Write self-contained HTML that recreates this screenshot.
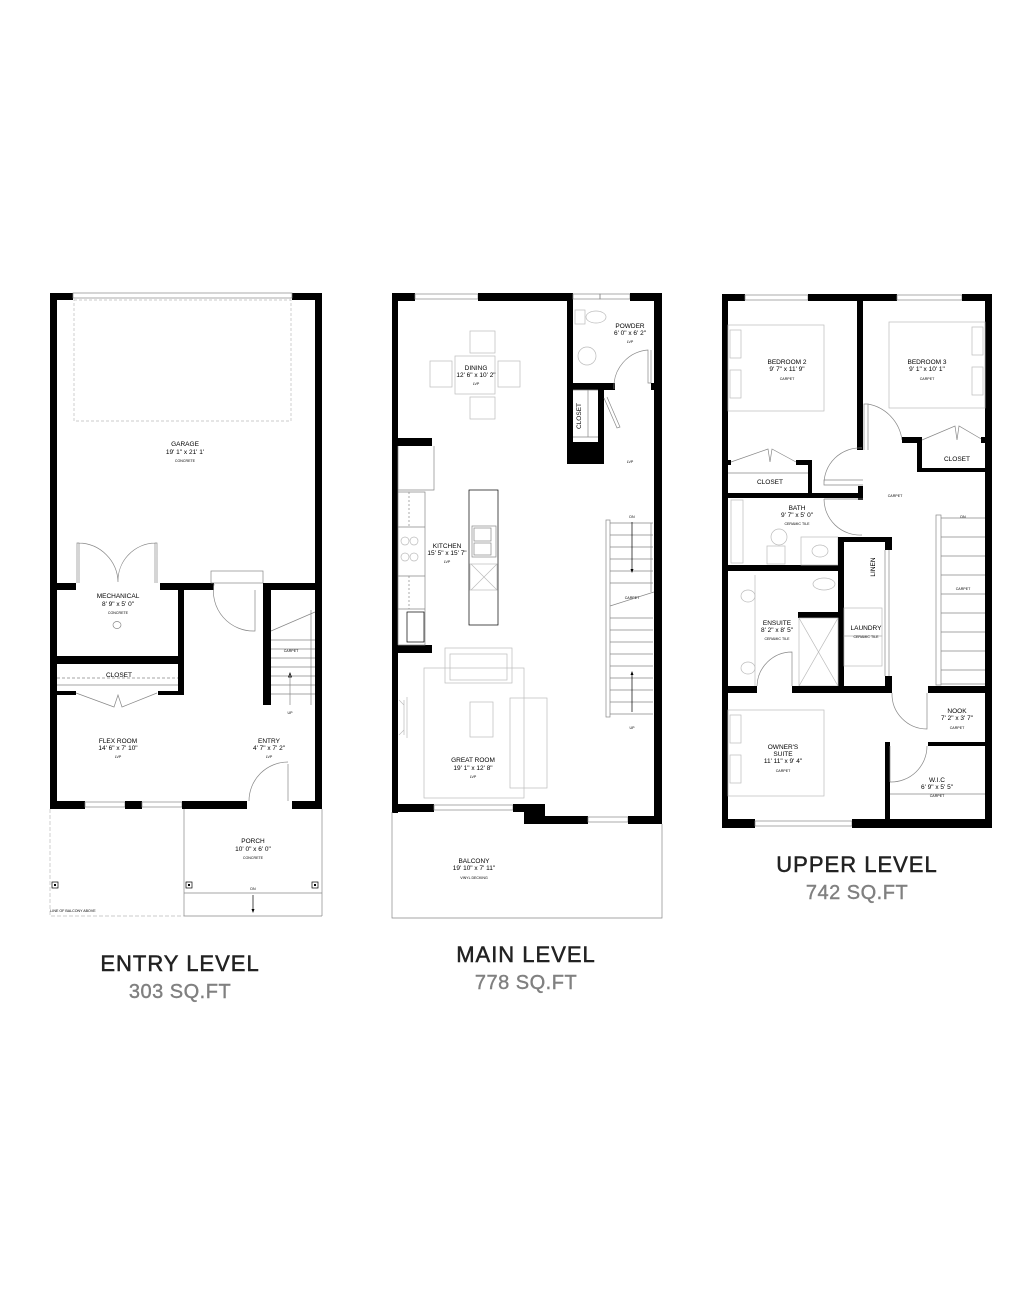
<!DOCTYPE html>
<html><head><meta charset="utf-8"><style>
html,body{margin:0;padding:0;background:#fff}
svg{display:block}
.w{fill:#000}
.t{fill:none;stroke:#888;stroke-width:0.7}
.k{fill:none;stroke:#000;stroke-width:0.7}
.f{fill:none;stroke:#bbb;stroke-width:0.7}
text{font-family:"Liberation Sans",sans-serif;text-anchor:middle;fill:#000}
.r{font-size:6.5px}
.s{font-size:3.6px}
.h{font-size:22px;letter-spacing:1px;fill:#222;stroke:#222;stroke-width:0.5}
.q{font-size:20px;letter-spacing:0.5px;fill:#808080;stroke:#808080;stroke-width:0.4}
</style></head><body>
<svg width="1036" height="1290" viewBox="0 0 1036 1290" xmlns="http://www.w3.org/2000/svg">
<!-- ENTRY LEVEL -->
<g>
<rect class="w" x="50" y="293" width="7" height="516"/>
<rect class="w" x="315" y="293" width="7" height="516"/>
<rect class="w" x="50" y="293" width="23" height="7"/>
<rect class="w" x="292" y="293" width="30" height="7"/>
<rect class="t" x="73" y="293" width="219" height="5"/>
<rect class="f" x="74" y="300" width="217" height="121" stroke-dasharray="3,2"/>
<rect class="w" x="50" y="801" width="35" height="8"/>
<rect class="t" x="85" y="802" width="40" height="5"/>
<rect class="w" x="125" y="801" width="17" height="8"/>
<rect class="t" x="142" y="802" width="40" height="5"/>
<rect class="w" x="182" y="801" width="65" height="8"/>
<rect class="w" x="292" y="801" width="30" height="8"/>
<path class="t" d="M288 801 L288 764 M249 801 A39 39 0 0 1 288 762"/>
<rect class="w" x="57" y="583" width="19" height="7"/>
<rect class="w" x="160" y="583" width="54" height="7"/>
<rect class="w" x="263" y="583" width="52" height="7"/>
<rect class="w" x="178" y="583" width="6" height="112"/>
<path class="t" d="M77 583 L77 543 L79 543 L79 583 M79 543 A40 40 0 0 1 118 582 M157 583 L157 543 L155 543 L155 583 M155 543 A38 38 0 0 0 118 582"/>
<ellipse class="t" cx="117" cy="625" rx="4" ry="3.5"/>
<rect class="w" x="57" y="656" width="121" height="8"/>
<rect class="w" x="57" y="691" width="19" height="4"/>
<rect class="w" x="158" y="691" width="26" height="4"/>
<path class="t" d="M57 678 L178 678" stroke-dasharray="3,2"/>
<path class="t" d="M57 685 L178 685 M76 693 L114 707 L118 695 L122 707 L157 693"/>
<rect class="t" x="211" y="571" width="52" height="12"/>
<path class="t" d="M214 584 A40 40 0 0 0 255 631 L255 590"/>
<rect class="w" x="263" y="583" width="8" height="122"/>
<path class="t" d="M271 631 L315 612 M271 640 H315 M271 649 H315 M271 658 H315 M271 667 H315 M271 676 H315 M271 685 H315 M271 694 H315 M311 610 V705 M290 673 V705"/>
<path class="k" d="M290 673 l-1.5 4 h3z"/>
<path class="t" d="M184 809 V916 M322 809 V916 M184 893 H322 M184 916 H322"/>
<path class="f" d="M50 809 V916 H184" stroke-dasharray="4,2"/>
<rect class="k" x="52" y="882" width="6" height="6"/><rect class="w" x="54" y="884" width="2" height="2"/>
<rect class="k" x="186" y="882" width="6" height="6"/><rect class="w" x="188" y="884" width="2" height="2"/>
<rect class="k" x="312" y="882" width="6" height="6"/><rect class="w" x="314" y="884" width="2" height="2"/>
<path class="k" d="M253 895 V910"/><path class="w" d="M251.5 909 h3 l-1.5 4z"/>
<text class="r" x="185" y="446">GARAGE</text>
<text class="r" x="185" y="454">19' 1" x 21' 1'</text>
<text class="s" x="185" y="462">CONCRETE</text>
<text class="r" x="118" y="598">MECHANICAL</text>
<text class="r" x="118" y="606">8' 9" x 5' 0"</text>
<text class="s" x="118" y="614">CONCRETE</text>
<text class="r" x="119" y="677">CLOSET</text>
<text class="r" x="118" y="743">FLEX ROOM</text>
<text class="r" x="118" y="750">14' 6" x 7' 10"</text>
<text class="s" x="118" y="758">LVP</text>
<text class="r" x="269" y="743">ENTRY</text>
<text class="r" x="269" y="750">4' 7" x 7' 2"</text>
<text class="s" x="269" y="758">LVP</text>
<text class="s" x="291" y="652">CARPET</text>
<text class="s" x="290" y="714">UP</text>
<text class="r" x="253" y="843">PORCH</text>
<text class="r" x="253" y="851">10' 0" x 6' 0"</text>
<text class="s" x="253" y="859">CONCRETE</text>
<text class="s" x="253" y="890">DN</text>
<text class="s" x="73" y="912">LINE OF BALCONY ABOVE</text>
</g>
<!-- MAIN LEVEL -->
<g>
<rect class="w" x="392" y="293" width="6" height="520"/>
<rect class="w" x="654" y="293" width="8" height="531"/>
<rect class="w" x="392" y="293" width="23" height="8"/>
<rect class="t" x="415" y="294" width="63" height="5"/>
<rect class="w" x="478" y="293" width="95" height="8"/>
<rect class="t" x="573" y="294" width="27" height="5"/>
<rect class="t" x="600" y="294" width="30" height="5"/>
<rect class="w" x="630" y="293" width="32" height="8"/>
<rect class="w" x="567" y="301" width="6" height="163"/>
<rect class="w" x="573" y="383" width="42" height="7"/>
<path class="t" d="M614 389 A37 37 0 0 1 648 350 L648 383 L651 383 L651 350"/>
<rect class="w" x="651" y="383" width="3" height="7"/>
<rect class="f" x="575" y="310" width="10" height="14"/>
<ellipse class="f" cx="596" cy="317" rx="10" ry="6"/>
<ellipse class="f" cx="587" cy="356" rx="9" ry="9"/>
<rect class="w" x="567" y="442" width="37" height="22"/>
<rect class="w" x="598" y="390" width="6" height="52"/>
<path class="t" d="M573 390 H598 M573 437 H598 M588 390 V437 M604 398 L617 428 L620 427 L607 397"/>
<rect class="w" x="398" y="438" width="34" height="8"/>
<rect class="w" x="398" y="645" width="34" height="8"/>
<path class="t" d="M398 446 V490 H434 V446 M398 490 V645 M398 492 H425 V645 H398 M398 527 H425 M398 576 H425 M398 609 H425"/>
<path class="t" d="M409 492 V527 M409 576 V609" stroke-dasharray="2,2"/>
<circle class="f" cx="405" cy="541" r="4"/><circle class="f" cx="414" cy="541" r="4"/>
<circle class="f" cx="405" cy="557" r="4"/><circle class="f" cx="414" cy="557" r="4"/>
<rect class="k" x="407" y="612" width="17" height="30"/>
<rect class="k" x="469" y="490" width="29" height="135"/>
<rect class="t" x="472" y="526" width="24" height="31"/>
<rect class="t" x="474" y="528" width="17" height="13"/><rect class="t" x="474" y="543" width="17" height="12"/>
<path class="f" d="M471 564 L497 590 M497 564 L471 590"/>
<rect class="f" x="470" y="564" width="27" height="26"/>
<rect class="f" x="455" y="356" width="40" height="38"/>
<rect class="f" x="470" y="331" width="25" height="22"/>
<rect class="f" x="470" y="397" width="25" height="22"/>
<rect class="f" x="430" y="361" width="22" height="26"/>
<rect class="f" x="498" y="361" width="22" height="26"/>
<rect class="f" x="424" y="668" width="100" height="130"/>
<rect class="f" x="445" y="648" width="67" height="35"/>
<rect class="f" x="450" y="654" width="57" height="26"/>
<rect class="f" x="470" y="702" width="23" height="35"/>
<rect class="f" x="510" y="698" width="37" height="90"/>
<path class="f" d="M399 700 L404 705 V730 L399 735 M404 700 V735 M407 697 V738"/>
<rect class="t" x="606" y="520" width="4" height="197"/>
<path class="t" d="M610 523 H653 M610 535 H653 M610 547 H653 M610 559 H653 M610 571 H653 M610 583 H653 M610 606 L654 592 M610 618 H653 M610 630 H653 M610 642 H653 M610 654 H653 M610 666 H653 M610 678 H653 M610 690 H653 M610 702 H653 M610 714 H653 M651 523 V592"/>
<path class="k" d="M632 522 V572 M632 672 V712"/>
<path class="w" d="M630.5 569 h3 l-1.5 4z M630.5 675 h3 l-1.5 -4z"/>
<rect class="w" x="392" y="804" width="42" height="8"/>
<rect class="t" x="434" y="805" width="79" height="5"/>
<rect class="w" x="513" y="804" width="32" height="8"/>
<rect class="w" x="524" y="804" width="21" height="20"/>
<rect class="w" x="524" y="816" width="64" height="8"/>
<rect class="t" x="588" y="817" width="40" height="5"/>
<rect class="w" x="628" y="816" width="34" height="8"/>
<path class="t" d="M392 812 V918 H662 V824"/>
<text class="r" x="476" y="370">DINING</text>
<text class="r" x="476" y="377">12' 6" x 10' 2"</text>
<text class="s" x="476" y="385">LVP</text>
<text class="r" x="630" y="328">POWDER</text>
<text class="r" x="630" y="335">6' 0" x 6' 2"</text>
<text class="s" x="630" y="343">LVP</text>
<text class="r" transform="translate(581,416) rotate(-90)">CLOSET</text>
<text class="s" x="630" y="463">LVP</text>
<text class="r" x="447" y="548">KITCHEN</text>
<text class="r" x="447" y="555">15' 5" x 15' 7"</text>
<text class="s" x="447" y="563">LVP</text>
<text class="s" x="632" y="518">DN</text>
<text class="s" x="632" y="599">CARPET</text>
<text class="s" x="632" y="729">UP</text>
<text class="r" x="473" y="762">GREAT ROOM</text>
<text class="r" x="473" y="770">19' 1" x 12' 8"</text>
<text class="s" x="473" y="778">LVP</text>
<text class="r" x="474" y="863">BALCONY</text>
<text class="r" x="474" y="870">19' 10" x 7' 11"</text>
<text class="s" x="474" y="879">VINYL DECKING</text>
</g>
<!-- UPPER LEVEL -->
<g>
<rect class="w" x="722" y="294" width="6" height="534"/>
<rect class="w" x="985" y="294" width="7" height="534"/>
<rect class="w" x="722" y="294" width="23" height="7"/>
<rect class="t" x="745" y="295" width="63" height="5"/>
<rect class="w" x="808" y="294" width="89" height="7"/>
<rect class="t" x="897" y="295" width="65" height="5"/>
<rect class="w" x="962" y="294" width="30" height="7"/>
<rect class="w" x="722" y="819" width="33" height="9"/>
<rect class="t" x="755" y="821" width="97" height="5"/>
<rect class="w" x="852" y="819" width="140" height="9"/>
<rect class="w" x="857" y="301" width="6" height="149"/>
<rect class="w" x="858" y="486" width="5" height="14"/>
<path class="t" d="M868 450 V404 H864 V450 M868 404 A42 42 0 0 1 902 440"/>
<rect class="w" x="728" y="460" width="3" height="5"/>
<rect class="w" x="796" y="460" width="16" height="5"/>
<rect class="w" x="808" y="460" width="4" height="37"/>
<path class="t" d="M731 462 L768 449 L770 462 L772 449 L796 462"/>
<path class="t" d="M728 473 H808"/>
<rect class="w" x="728" y="493" width="135" height="5"/>
<path class="t" d="M863 485 H824 V480 H863 M824 485 A36 36 0 0 1 862 448 M863 499 H824 M824 499 A36 36 0 0 0 862 535"/>
<rect class="w" x="902" y="437" width="20" height="6"/>
<rect class="w" x="917" y="437" width="5" height="35"/>
<rect class="w" x="917" y="468" width="68" height="4"/>
<path class="t" d="M922 440 L955 426 L957 440 L959 426 L983 440"/>
<rect class="w" x="981" y="437" width="4" height="6"/>
<rect class="f" x="728" y="325" width="96" height="86"/>
<rect class="f" x="730" y="330" width="11" height="28"/><rect class="f" x="730" y="370" width="11" height="28"/>
<rect class="f" x="889" y="322" width="96" height="86"/>
<rect class="f" x="972" y="327" width="11" height="28"/><rect class="f" x="972" y="367" width="11" height="28"/>
<rect class="f" x="728" y="710" width="96" height="86"/>
<rect class="f" x="730" y="715" width="11" height="28"/><rect class="f" x="730" y="755" width="11" height="28"/>
<rect class="w" x="728" y="565" width="110" height="6"/>
<rect class="f" x="731" y="500" width="12" height="63"/>
<ellipse class="f" cx="779" cy="537" rx="8" ry="8"/><rect class="f" x="767" y="546" width="18" height="18"/>
<rect class="f" x="801" y="537" width="37" height="28"/><ellipse class="f" cx="820" cy="551" rx="8" ry="6"/>
<rect class="w" x="838" y="537" width="6" height="156"/>
<rect class="w" x="838" y="537" width="54" height="5"/>
<rect class="w" x="885" y="537" width="7" height="13"/>
<rect class="w" x="885" y="676" width="7" height="17"/>
<path class="t" d="M885 550 V676 M889 550 V676"/>
<rect class="f" x="844" y="608" width="38" height="28"/><rect class="f" x="844" y="636" width="38" height="30"/>
<rect class="w" x="798" y="612" width="40" height="6"/>
<rect class="f" x="799" y="618" width="39" height="68"/>
<path class="f" d="M799 618 L838 686 M838 618 L799 686"/>
<ellipse class="f" cx="824" cy="584" rx="11" ry="6"/>
<ellipse class="f" cx="748" cy="596" rx="7" ry="6"/><ellipse class="f" cx="748" cy="668" rx="7" ry="6"/>
<path class="f" d="M755 575 V686"/>
<rect class="w" x="728" y="686" width="29" height="7"/>
<rect class="w" x="792" y="686" width="93" height="7"/>
<path class="t" d="M757 686 A35 35 0 0 1 792 652 V686"/>
<rect class="t" x="936" y="515" width="5" height="170"/>
<path class="t" d="M941 518 H985 M941 537 H985 M941 556 H985 M941 575 H985 M941 594 H985 M941 613 H985 M941 632 H985 M941 651 H985 M941 670 H985 M941 684 H985"/>
<rect class="w" x="928" y="686" width="57" height="7"/>
<path class="t" d="M892 693 A35 35 0 0 0 927 729 V693"/>
<rect class="w" x="928" y="742" width="57" height="4"/>
<rect class="w" x="885" y="742" width="5" height="77"/>
<path class="t" d="M890 746 V782 M927 746 A36 36 0 0 1 890 782 M890 794 H985"/>
<text class="r" x="787" y="364">BEDROOM 2</text>
<text class="r" x="787" y="371">9' 7" x 11' 9"</text>
<text class="s" x="787" y="380">CARPET</text>
<text class="r" x="927" y="364">BEDROOM 3</text>
<text class="r" x="927" y="371">9' 1" x 10' 1"</text>
<text class="s" x="927" y="380">CARPET</text>
<text class="r" x="770" y="484">CLOSET</text>
<text class="r" x="957" y="461">CLOSET</text>
<text class="s" x="895" y="497">CARPET</text>
<text class="r" x="797" y="510">BATH</text>
<text class="r" x="797" y="517">9' 7" x 5' 0"</text>
<text class="s" x="797" y="525">CERAMIC TILE</text>
<text class="s" x="963" y="518">DN</text>
<text class="s" x="963" y="590">CARPET</text>
<text class="r" transform="translate(875,567) rotate(-90)">LINEN</text>
<text class="r" x="777" y="625">ENSUITE</text>
<text class="r" x="777" y="632">8' 2" x 8' 5"</text>
<text class="s" x="777" y="640">CERAMIC TILE</text>
<text class="r" x="866" y="630">LAUNDRY</text>
<text class="s" x="866" y="638">CERAMIC TILE</text>
<text class="r" x="957" y="713">NOOK</text>
<text class="r" x="957" y="720">7' 2" x 3' 7"</text>
<text class="s" x="957" y="729">CARPET</text>
<text class="r" x="783" y="749">OWNER'S</text>
<text class="r" x="783" y="756">SUITE</text>
<text class="r" x="783" y="763">11' 11" x 9' 4"</text>
<text class="s" x="783" y="772">CARPET</text>
<text class="r" x="937" y="782">W.I.C</text>
<text class="r" x="937" y="789">6' 9" x 5' 5"</text>
<text class="s" x="937" y="797">CARPET</text>
</g>
<text class="h" x="180" y="971">ENTRY LEVEL</text>
<text class="q" x="180" y="998">303 SQ.FT</text>
<text class="h" x="526" y="962">MAIN LEVEL</text>
<text class="q" x="526" y="989">778 SQ.FT</text>
<text class="h" x="857" y="872">UPPER LEVEL</text>
<text class="q" x="857" y="899">742 SQ.FT</text>
</svg>
</body></html>
